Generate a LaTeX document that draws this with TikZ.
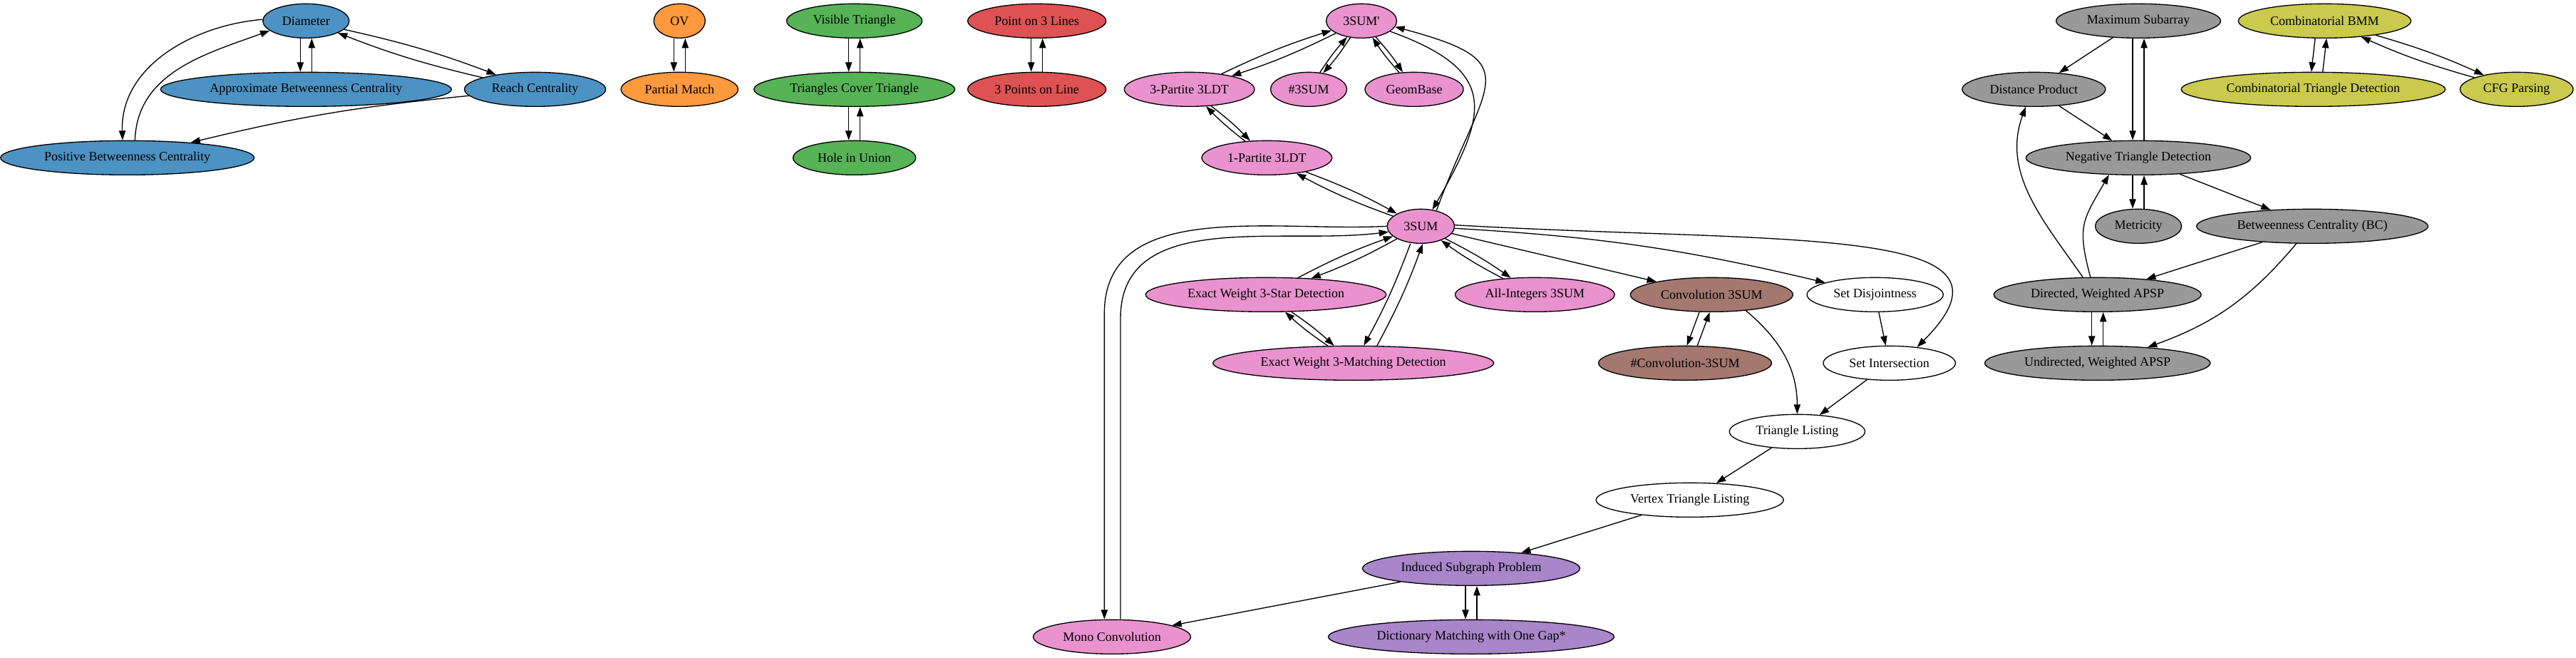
\documentclass[tikz,border=0pt]{standalone}
\usepackage{fontspec}
\setmainfont{Liberation Serif}
\usetikzlibrary{positioning,shapes.geometric,arrows.meta}
\definecolor{cblue}{HTML}{4C92C3}
\definecolor{corange}{HTML}{FF993E}
\definecolor{cgreen}{HTML}{56B356}
\definecolor{cred}{HTML}{DE5253}
\definecolor{cpink}{HTML}{E992CE}
\definecolor{cbrown}{HTML}{A3786F}
\definecolor{cpurple}{HTML}{A985CA}
\definecolor{cgray}{HTML}{999999}
\definecolor{colive}{HTML}{C9CA4E}
\begin{document}
\begin{tikzpicture}[x=1pt,y=1pt,node distance=72pt,
	>={Triangle[length=10pt,width=7pt]},
	prob/.style={ellipse,draw,line width=1pt,fill=#1,minimum height=36pt,minimum width=54pt,inner xsep=7pt,inner ysep=2pt,font=\fontsize{13.5}{16}\selectfont},
	prob/.default=white,
	twin/.style={bend left=4}]
	\useasboundingbox (0,0) rectangle (2710.5,-692.25);
	\node [prob=cblue] (diam) at (322,-22) {Diameter};
	\node [prob=cblue,below of=diam] (abc) {Approximate Betweenness Centrality};
	\node [prob=cblue] (reach) at (563,-94) {Reach Centrality};
	\node [prob=cblue] (pbc) at (134,-166) {Positive Betweenness Centrality};
	\node [prob=corange] (ov) at (715,-22) {OV};
	\node [prob=corange,below of=ov] (pm) {Partial Match};
	\node [prob=cgreen] (vt) at (899,-22) {Visible Triangle};
	\node [prob=cgreen,below of=vt] (tct) {Triangles Cover Triangle};
	\node [prob=cgreen,below of=tct] (hiu) {Hole in Union};
	\node [prob=cred] (p3l) at (1091,-22) {Point on 3 Lines};
	\node [prob=cred,below of=p3l] (tpol) {3 Points on Line};
	\node [prob=cpink] (s3p) at (1432.5,-22) {3SUM\textquotesingle};
	\node [prob=cpink] (tpl) at (1251.5,-94) {3-Partite 3LDT};
	\node [prob=cpink] (ns3) at (1377,-94) {\#3SUM};
	\node [prob=cpink] (gb) at (1488,-94) {GeomBase};
	\node [prob=cpink] (opl) at (1333,-166) {1-Partite 3LDT};
	\node [prob=cpink] (s3) at (1495,-238) {3SUM};
	\node [prob=cpink] (ews) at (1332,-310) {Exact Weight 3-Star Detection};
	\node [prob=cpink] (ai) at (1615,-310) {All-Integers 3SUM};
	\node [prob=cbrown] (conv) at (1801,-310) {Convolution 3SUM};
	\node [prob] (sd) at (1973,-310) {Set Disjointness};
	\node [prob=cpink] (ewm) at (1424,-382) {Exact Weight 3-Matching Detection};
	\node [prob=cbrown] (nconv) at (1773,-382) {\#Convolution-3SUM};
	\node [prob] (si) at (1988,-382) {Set Intersection};
	\node [prob] (tl) at (1891,-454) {Triangle Listing};
	\node [prob] (vtl) at (1778,-526) {Vertex Triangle Listing};
	\node [prob=cpurple] (isp) at (1548,-598) {Induced Subgraph Problem};
	\node [prob=cpink] (mono) at (1170,-670) {Mono Convolution};
	\node [prob=cpurple,below of=isp] (dmog) {Dictionary Matching with One Gap*};
	\node [prob=cgray] (ms) at (2250,-22) {Maximum Subarray};
	\node [prob=colive] (cb) at (2446,-22) {Combinatorial BMM};
	\node [prob=cgray] (dp) at (2140,-94) {Distance Product};
	\node [prob=colive] (ct) at (2434,-94) {Combinatorial Triangle Detection};
	\node [prob=colive] (cfg) at (2648,-94) {CFG Parsing};
	\node [prob=cgray] (nt) at (2250,-166) {Negative Triangle Detection};
	\node [prob=cgray,below of=nt] (met) {Metricity};
	\node [prob=cgray] (bc) at (2433,-238) {Betweenness Centrality (BC)};
	\node [prob=cgray] (da) at (2207,-310) {Directed, Weighted APSP};
	\node [prob=cgray,below of=da] (ua) {Undirected, Weighted APSP};
	\coordinate (mo1) at (1162,-330);
	\coordinate (mo2) at (1179,-335);
	\begin{scope}[->,line width=1pt]
		\draw ([xshift=-6pt]diam.south) -- ([xshift=-6pt]abc.north);
		\draw ([xshift=6pt]abc.north) -- ([xshift=6pt]diam.south);
		\draw (diam) to[twin] (reach);
		\draw (reach) to[twin] (diam);
		\draw (diam.178) to[out=185,in=92] ([xshift=-5pt]pbc.north);
		\draw ([xshift=8pt]pbc.north) to[out=88,in=200] (diam.195);
		\draw (reach) to[bend right=4] (pbc);
		\draw ([xshift=-6pt]ov.south) -- ([xshift=-6pt]pm.north);
		\draw ([xshift=6pt]pm.north) -- ([xshift=6pt]ov.south);
		\draw ([xshift=-6pt]vt.south) -- ([xshift=-6pt]tct.north);
		\draw ([xshift=6pt]tct.north) -- ([xshift=6pt]vt.south);
		\draw ([xshift=-6pt]tct.south) -- ([xshift=-6pt]hiu.north);
		\draw ([xshift=6pt]hiu.north) -- ([xshift=6pt]tct.south);
		\draw ([xshift=-6pt]p3l.south) -- ([xshift=-6pt]tpol.north);
		\draw ([xshift=6pt]tpol.north) -- ([xshift=6pt]p3l.south);
		\draw (s3p) to[twin] (tpl);
		\draw (tpl) to[twin] (s3p);
		\draw (s3p) to[twin] (ns3);
		\draw (ns3) to[twin] (s3p);
		\draw (s3p) to[twin] (gb);
		\draw (gb) to[twin] (s3p);
		\draw (tpl) to[twin] (opl);
		\draw (opl) to[twin] (tpl);
		\draw (opl) to[twin] (s3);
		\draw (s3) to[twin] (opl);
		\draw (s3p.-20) to[out=-20,in=60,looseness=1.6] (s3.55);
		\draw (s3.45) to[out=70,in=-15,looseness=1.9] (s3p.-10);
		\draw (s3) to[twin] (ews);
		\draw (ews) to[twin] (s3);
		\draw ([xshift=-11pt]s3.south) to[bend left=4] ([xshift=11pt]ewm.north);
		\draw ([xshift=25pt]ewm.north) to[bend right=4] ([xshift=2pt]s3.south);
		\draw (ews) to[twin] (ewm);
		\draw (ewm) to[twin] (ews);
		\draw (s3) to[twin] (ai);
		\draw (ai) to[twin] (s3);
		\draw (s3.180) to[out=183,in=90] (mo1) -- (mo1 |- mono.north);
		\draw (mo2 |- mono.north) -- (mo2) to[out=90,in=187] (s3.190);
		\draw (s3) -- (conv);
		\draw (s3) to[bend left=5] (sd);
		\draw (s3.2) .. controls +(350,-20) and +(130,130) .. (si.30);
		\draw ([xshift=-13pt]conv.south) -- ([xshift=2pt]nconv.north);
		\draw ([xshift=13pt]nconv.north) -- ([xshift=-2pt]conv.south);
		\draw (conv.-25) to[out=-40,in=90] (tl.north);
		\draw (sd) -- (si);
		\draw (si) -- (tl);
		\draw (tl) -- (vtl);
		\draw (vtl) -- (isp);
		\draw (isp) -- (mono);
		\draw ([xshift=-6pt]isp.south) -- ([xshift=-6pt]dmog.north);
		\draw ([xshift=6pt]dmog.north) -- ([xshift=6pt]isp.south);
		\draw (ms) -- (dp);
		\draw ([xshift=-6pt]ms.south) -- ([xshift=-6pt]nt.north);
		\draw ([xshift=6pt]nt.north) -- ([xshift=6pt]ms.south);
		\draw (dp) -- (nt);
		\draw ([xshift=-6pt]nt.south) -- ([xshift=-6pt]met.north);
		\draw ([xshift=6pt]met.north) -- ([xshift=6pt]nt.south);
		\draw (nt) -- (bc);
		\draw (bc) -- (da);
		\draw (bc) to[bend left=15] (ua);
		\draw (da.130) to[out=125,in=-110] (dp.-115);
		\draw (da.112) to[out=105,in=-120,looseness=1.3] (nt.-150);
		\draw ([xshift=-6pt]da.south) -- ([xshift=-6pt]ua.north);
		\draw ([xshift=6pt]ua.north) -- ([xshift=6pt]da.south);
		\draw ([xshift=-10pt]cb.south) -- ([xshift=-2pt]ct.north);
		\draw ([xshift=10pt]ct.north) -- ([xshift=2pt]cb.south);
		\draw (cb) to[twin] (cfg);
		\draw (cfg) to[twin] (cb);
	\end{scope}
\end{tikzpicture}
\end{document}
